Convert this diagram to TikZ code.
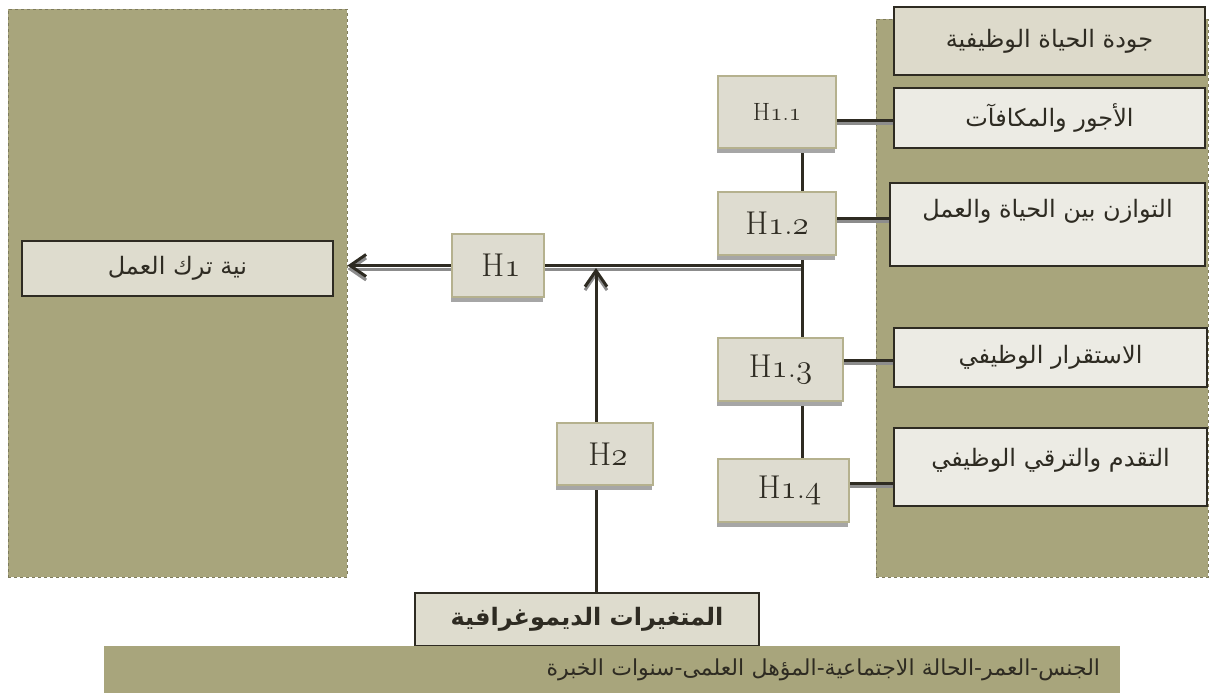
\documentclass[tikz,border=0pt]{standalone}
\usepackage{fontspec}
\usetikzlibrary{arrows.meta,shadows}
\newfontfamily\arfont[Script=Arabic]{DejaVu Sans}
\TeXXeTstate=1
\newcommand\artxt[1]{\beginR #1\endR}
\makeatletter
\newcommand\osn[1]{{\font\osnfont=cmmi12 at \f@size pt\osnfont #1}}
\makeatother
\definecolor{panel}{HTML}{A8A57C}
\definecolor{panelline}{HTML}{7E7B5C}
\definecolor{ink}{HTML}{2E2B22}
\definecolor{headfill}{HTML}{DDDACB}
\definecolor{boxlight}{HTML}{ECEBE4}
\definecolor{intentfill}{HTML}{DEDCCE}
\definecolor{hfill}{HTML}{DEDCD0}
\definecolor{hline}{HTML}{B5B18E}
\definecolor{hshadow}{HTML}{A6A6A6}
\definecolor{linkshade}{HTML}{8C8C8C}
\pgfdeclarelayer{panels}
\pgfdeclarelayer{wires}
\pgfsetlayers{panels,wires,main}

\begin{document}
\begin{tikzpicture}[x=1pt,y=-1pt,
  panelbox/.style={draw=panelline,dashed,line width=0.9pt,fill=panel,inner sep=0pt},
  factor/.style={draw=ink,line width=1.6pt,fill=boxlight,inner sep=0pt,text=ink,
    font=\arfont\fontsize{24}{28}\selectfont},
  hyp/.style={draw=hline,line width=1.4pt,fill=hfill,inner sep=0pt,text=ink,
    font=\fontsize{#1}{#1}\selectfont,
    drop shadow={shadow xshift=-1.5pt,shadow yshift=-5pt,fill=hshadow,opacity=1}},
  hyp/.default=33,
  link/.style={draw=ink,line width=3pt,
    preaction={draw=linkshade,line width=3pt,transform canvas={yshift=-3.5pt}}},
  barb/.style={-{Straight Barb[length=16pt,width=22pt]}}]
\useasboundingbox (0,0) rectangle (1209,693);
\begin{pgfonlayer}{panels}
\node[panelbox,minimum width=339,minimum height=568] (outcome) at (177.5,293) {};
\node[panelbox,minimum width=332,minimum height=558] (qwl) at (1042,298) {};
\end{pgfonlayer}

\node[factor,fill=intentfill,minimum width=311,minimum height=55] (intent) at (177.5,268.5) {\artxt{نية ترك العمل}};
\node[factor,fill=headfill,minimum width=311,minimum height=68] (head) at (1049.5,41) {\artxt{جودة الحياة الوظيفية}};
\node[factor,minimum width=311,minimum height=60] (wage) at (1049.5,118) {\artxt{الأجور والمكافآت}};
\node[factor,minimum width=315,minimum height=83,inner ysep=4.5pt,text height=30pt,text depth=44pt] (balance) at (1047.5,224.5) {\artxt{التوازن بين الحياة والعمل}};
\node[factor,minimum width=313,minimum height=59] (stab) at (1050.5,357.5) {\artxt{الاستقرار الوظيفي}};
\node[factor,minimum width=313,minimum height=78,inner ysep=4pt,text height=34pt,text depth=36pt] (promo) at (1050.5,467) {\artxt{التقدم والترقي الوظيفي}};

\node[hyp=25,minimum width=118,minimum height=72] (h11) at (777,112) {H\osn{1}.\osn{1}};
\node[hyp,minimum width=118,minimum height=63] (h12) at (777,223.5) {H\osn{1}.\osn{2}};
\node[hyp,minimum width=125,minimum height=63] (h13) at (780.5,369.5) {H\osn{1}.\osn{3}};
\node[hyp,minimum width=131,minimum height=63] (h14) at (783.5,490.5) {\hspace{12pt}H\osn{1}.\osn{4}};
\node[hyp,minimum width=92,minimum height=63] (h1) at (498,265.5) {\hspace{6pt}H\osn{1}};
\node[hyp,minimum width=96,minimum height=62] (h2) at (605,454) {\hspace{6pt}H\osn{2}};

\node[factor,fill=intentfill,minimum width=344,minimum height=53,
  font=\arfont\bfseries\fontsize{24}{28}\selectfont] (demo) at (587,619.5) {\artxt{المتغيرات الديموغرافية}};
\node[fill=panel,inner xsep=20pt,inner ysep=0pt,text width=976pt,align=right,minimum height=47,
  text=ink,font=\arfont\fontsize{22}{26}\selectfont] (band) at (612,669.5) {\artxt{الجنس-العمر-الحالة الاجتماعية-المؤهل العلمى-سنوات الخبرة}};

\coordinate (spine) at (802,267);
\coordinate (riser) at (596,268);
\begin{pgfonlayer}{wires}
\draw[link,barb] (h1.west) -- (h1.west -| outcome.east);
\draw[link] (h1.east) -- (h1.east -| spine);
\draw[link] (h11.south -| spine) -- (h14.north -| spine);
\draw[link,barb] (demo.north -| riser) -- (riser);
\foreach \hx/\fx/\dy in {h11/wage/-8,h12/balance/5.5,h13/stab/9.5,h14/promo/7.5}
  \draw[link] ([yshift=\dy pt]\hx.east) -- ([yshift=\dy pt]\hx.east -| \fx.west);
\end{pgfonlayer}
\end{tikzpicture}
\end{document}
